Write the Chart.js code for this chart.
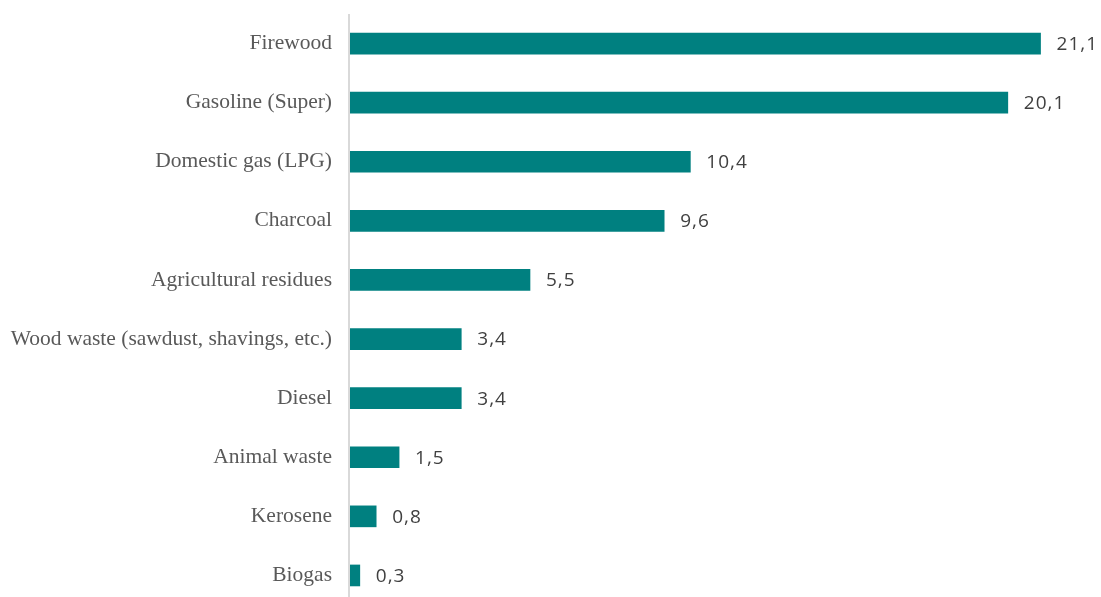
<!DOCTYPE html>
<html>
<head>
<meta charset="utf-8">
<script src="https://cdn.jsdelivr.net/npm/chart.js@4/dist/chart.umd.min.js"></script>
<style>
  html, body { margin: 0; padding: 0; background: #fff; overflow: hidden; }
  canvas { display: block; }
</style>
</head>
<body>
<canvas id="fuelChart" width="1101" height="605"></canvas>
<script>
// Fuel types and their share values
const categories = [
  "Firewood",
  "Gasoline (Super)",
  "Domestic gas (LPG)",
  "Charcoal",
  "Agricultural residues",
  "Wood waste (sawdust, shavings, etc.)",
  "Diesel",
  "Animal waste",
  "Kerosene",
  "Biogas",
];
const shares = [21.1, 20.1, 10.4, 9.6, 5.5, 3.4, 3.4, 1.5, 0.8, 0.3];

const BAR_COLOR = "#008080";
const AXIS_COLOR = "#d9d9d9";

// value labels like "21,1" next to each bar
const valueLabels = {
  id: "valueLabels",
  afterDatasetsDraw(chart) {
    const ctx = chart.ctx;
    const meta = chart.getDatasetMeta(0);
    ctx.save();
    ctx.font = "19px 'Open Sans'";
    ctx.letterSpacing = "1px";
    ctx.fillStyle = "#404040";
    ctx.textAlign = "left";
    ctx.textBaseline = "middle";
    meta.data.forEach((bar, i) => {
      const txt = shares[i].toFixed(1).replace(".", ",");
      ctx.fillText(txt, bar.x + 16, bar.y + 1);
    });
    ctx.restore();
  },
};

// the light vertical axis line left of the bars
const axisLine = {
  id: "axisLine",
  beforeDatasetsDraw(chart) {
    const { ctx, chartArea } = chart;
    ctx.save();
    ctx.fillStyle = AXIS_COLOR;
    ctx.fillRect(chartArea.left - 2, 14, 2, chart.height - 14);
    ctx.restore();
  },
};

new Chart(document.getElementById("fuelChart").getContext("2d"), {
  type: "bar",
  data: {
    labels: categories,
    datasets: [
      {
        data: shares,
        backgroundColor: BAR_COLOR,
        borderWidth: 0,
        barThickness: 21,
      },
    ],
  },
  options: {
    indexAxis: "y",
    responsive: false,
    animation: false,
    layout: { padding: { top: 14, right: 31, bottom: 0, left: 0 } },
    plugins: {
      legend: { display: false },
      tooltip: { enabled: false },
    },
    scales: {
      x: {
        display: false,
        min: 0,
        max: 22,
      },
      y: {
        grid: { display: false, drawTicks: false },
        border: { display: false },
        afterFit: (scale) => {
          scale.width = 350;
          // tick padding should not push the plot area in vertically
          scale.paddingTop = 0;
          scale.paddingBottom = 0;
        },
        ticks: {
          padding: 18,
          color: "#595959",
          font: { family: "'Liberation Serif', 'Times New Roman', serif", size: 21.5 },
        },
      },
    },
  },
  plugins: [axisLine, valueLabels],
});
</script>
</body>
</html>
